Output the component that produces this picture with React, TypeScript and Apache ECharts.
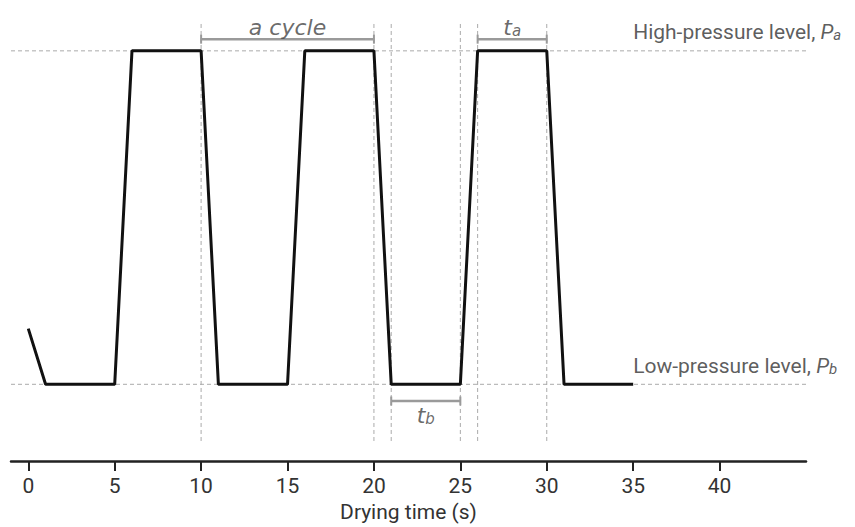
import React, { useEffect, useRef } from "react";
import * as echarts from "echarts";

const timeValues = [0, 1, 5, 6, 10, 11, 15, 16, 20, 21, 25, 26, 30, 31, 35];
const pressureValues = [0.167, 0, 0, 1, 1, 0, 0, 1, 1, 0, 0, 1, 1, 0, 0];
const xTicks = [0, 5, 10, 15, 20, 25, 30, 35, 40];
const levelValues = [0, 1];
const markerTimes = [10, 20, 21, 25, 26, 30];
const cycleBracket = [10, 20];
const taBracket = [26, 30];
const tbBracket = [21, 25];

const NARROW = 'Roboto, "Liberation Sans", Arial, sans-serif';
const ITAL = '"DejaVu Sans", sans-serif';
const GRAY = "#9a9a9a";

export default function App() {
  const ref = useRef<HTMLDivElement>(null);
  useEffect(() => {
    if (!ref.current) return;
    const chart = echarts.init(ref.current, null, { renderer: "svg" });
    const vTop = 1.084;
    const vBot = -0.17;
    const series: any[] = [];
    levelValues.forEach((v) => {
      series.push({
        type: "line",
        data: [[-1, v], [45, v]],
        symbol: "none",
        lineStyle: { color: "#aaa", width: 1, type: [4, 3] },
        silent: true,
        z: 1,
      });
    });
    markerTimes.forEach((t) => {
      series.push({
        type: "line",
        data: [[t, vBot], [t, vTop]],
        symbol: "none",
        lineStyle: { color: "#aaa", width: 1, type: [4, 3] },
        silent: true,
        z: 1,
      });
    });
    const bracket = (xs: number[], y: number) => ({
      type: "line",
      data: xs.map((x) => [x, y]),
      symbol: "rect",
      symbolSize: [2, 9],
      itemStyle: { color: GRAY },
      lineStyle: { color: GRAY, width: 2.5 },
      silent: true,
      z: 2,
    });
    series.push(bracket(cycleBracket, 1.035));
    series.push(bracket(taBracket, 1.035));
    series.push(bracket(tbBracket, -0.05));
    series.push({
      type: "line",
      data: timeValues.map((t, i) => [t, pressureValues[i]]),
      symbol: "none",
      lineStyle: { color: "#111", width: 3 },
      z: 5,
    });
    const subRich = {
      t: { fontFamily: ITAL, fontStyle: "italic", fontSize: 22, color: "#444", lineHeight: 24, verticalAlign: "bottom" },
      s: { fontFamily: ITAL, fontStyle: "italic", fontSize: 15, color: "#444", lineHeight: 10, verticalAlign: "bottom" },
      n: { fontFamily: NARROW, fontSize: 21, color: "#333", lineHeight: 24, verticalAlign: "bottom" },
      p: { fontFamily: NARROW, fontStyle: "italic", fontSize: 21, color: "#333", lineHeight: 24, verticalAlign: "bottom" },
      q: { fontFamily: NARROW, fontStyle: "italic", fontSize: 15, color: "#333", lineHeight: 10, verticalAlign: "bottom" },
    };
    series.push({
      type: "scatter",
      symbolSize: 0,
      silent: true,
      z: 6,
      data: [
        { value: [(cycleBracket[0] + cycleBracket[1]) / 2, 1.035], label: { formatter: "{t|a cycle}", position: "top", distance: 1 } },
        { value: [(taBracket[0] + taBracket[1]) / 2, 1.035], label: { formatter: "{t|t}{s|a}", position: "top", distance: 1 } },
        { value: [(tbBracket[0] + tbBracket[1]) / 2, -0.05], label: { formatter: "{t|t}{s|b}", position: "bottom", distance: 2 } },
        { value: [35, 1.06], label: { formatter: "{n|High-pressure level, }{p|P}{q|a}", position: "right", distance: 0 } },
        { value: [35, 0.06], label: { formatter: "{n|Low-pressure level, }{p|P}{q|b}", position: "right", distance: 0 } },
      ],
      label: { show: true, rich: subRich },
    });
    chart.setOption({
      animation: false,
      backgroundColor: "#fff",
      grid: { left: 11, right: 49, top: 17.5, bottom: 64, containLabel: false },
      xAxis: {
        type: "value",
        min: -1,
        max: 45,
        interval: 1,
        name: "Drying time (s)",
        nameLocation: "middle",
        nameGap: 40,
        nameTextStyle: { fontFamily: NARROW, fontSize: 21, color: "#333" },
        axisLine: { show: true, onZero: false, lineStyle: { color: "#222", width: 2.5 } },
        axisTick: {
          show: true,
          length: 10,
          lineStyle: { color: "#222", width: 2 },
          customValues: xTicks,
        },
        axisLabel: {
          fontFamily: NARROW,
          fontSize: 21,
          color: "#333",
          margin: 14,
          customValues: xTicks,
          formatter: (v: number) => String(v),
        },
        splitLine: { show: false },
      },
      yAxis: {
        type: "value",
        min: -0.23,
        max: 1.1,
        show: false,
        splitLine: { show: false },
      },
      series,
    });
    return () => chart.dispose();
  }, []);
  return <div ref={ref} style={{ width: 855, height: 527, position: "absolute", left: 0, top: 0 }} />;
}
